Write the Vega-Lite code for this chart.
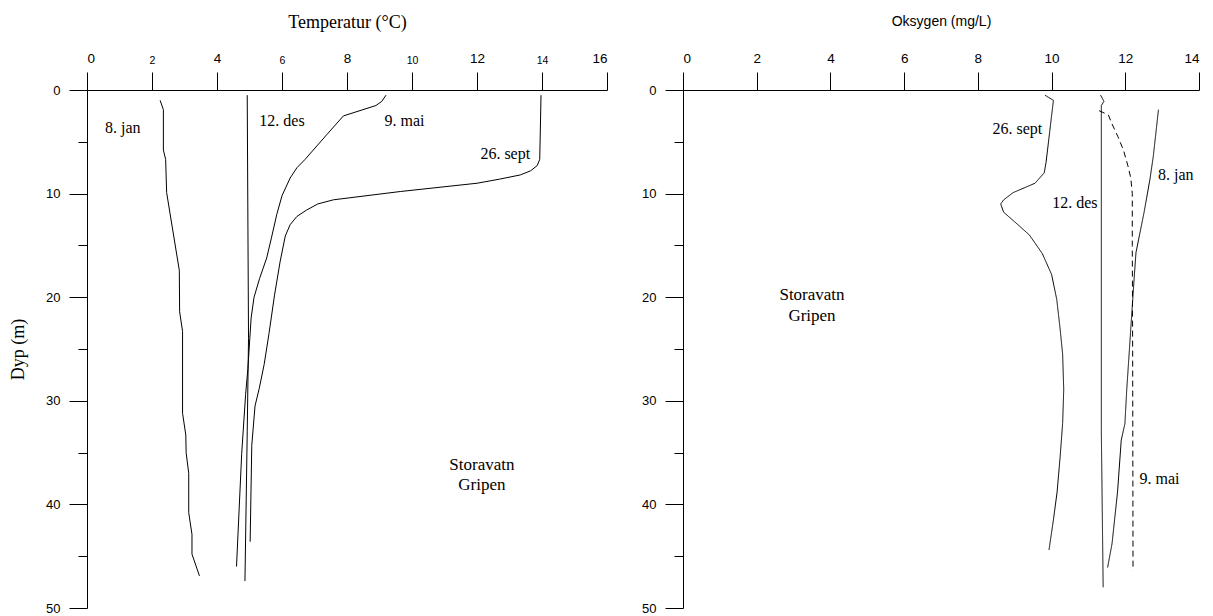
{
  "$schema": "https://vega.github.io/schema/vega-lite/v6.json",
  "background": "white",
  "padding": {"left": 9, "top": 13, "right": 5, "bottom": 5},
  "bounds": "flush",
  "spacing": 76,
  "config": {
    "view": {"stroke": null},
    "axis": {"domainColor": "black", "tickColor": "black", "labelColor": "black", "titleColor": "black", "grid": false, "labelFont": "Liberation Sans", "titleFontWeight": "normal", "domainWidth": 1, "tickWidth": 1}
  },
  "resolve": {"scale": {"x": "independent", "y": "independent", "strokeDash": "independent"}},
  "datasets": {
    "temp": [
      {"date": "8. jan", "v": 2.25, "d": 1.0}, {"date": "8. jan", "v": 2.35, "d": 1.9}, {"date": "8. jan", "v": 2.35, "d": 5.8}, {"date": "8. jan", "v": 2.42, "d": 6.7}, {"date": "8. jan", "v": 2.45, "d": 9.9}, {"date": "8. jan", "v": 2.84, "d": 17.4}, {"date": "8. jan", "v": 2.85, "d": 21.4}, {"date": "8. jan", "v": 2.94, "d": 23.3}, {"date": "8. jan", "v": 2.94, "d": 31.2}, {"date": "8. jan", "v": 3.04, "d": 33.3}, {"date": "8. jan", "v": 3.05, "d": 35.0}, {"date": "8. jan", "v": 3.13, "d": 37.0}, {"date": "8. jan", "v": 3.13, "d": 40.8}, {"date": "8. jan", "v": 3.23, "d": 42.9}, {"date": "8. jan", "v": 3.23, "d": 44.8}, {"date": "8. jan", "v": 3.46, "d": 46.9},
      {"date": "12. des", "v": 4.93, "d": 0.5}, {"date": "12. des", "v": 4.97, "d": 24}, {"date": "12. des", "v": 4.93, "d": 33}, {"date": "12. des", "v": 4.86, "d": 47.4},
      {"date": "9. mai", "v": 9.2, "d": 0.5}, {"date": "9. mai", "v": 9.07, "d": 1.1}, {"date": "9. mai", "v": 8.89, "d": 1.5}, {"date": "9. mai", "v": 7.89, "d": 2.5}, {"date": "9. mai", "v": 7.38, "d": 4.3}, {"date": "9. mai", "v": 6.71, "d": 6.7}, {"date": "9. mai", "v": 6.46, "d": 7.5}, {"date": "9. mai", "v": 6.25, "d": 8.5}, {"date": "9. mai", "v": 6.0, "d": 10.2}, {"date": "9. mai", "v": 5.84, "d": 12}, {"date": "9. mai", "v": 5.68, "d": 14.2}, {"date": "9. mai", "v": 5.53, "d": 16.2}, {"date": "9. mai", "v": 5.31, "d": 18.2}, {"date": "9. mai", "v": 5.14, "d": 20}, {"date": "9. mai", "v": 5.05, "d": 22}, {"date": "9. mai", "v": 4.95, "d": 26.9}, {"date": "9. mai", "v": 4.88, "d": 29.4}, {"date": "9. mai", "v": 4.76, "d": 35.1}, {"date": "9. mai", "v": 4.6, "d": 46.0},
      {"date": "26. sept", "v": 13.97, "d": 0.5}, {"date": "26. sept", "v": 13.93, "d": 6.7}, {"date": "26. sept", "v": 13.85, "d": 7.3}, {"date": "26. sept", "v": 13.65, "d": 7.8}, {"date": "26. sept", "v": 13.33, "d": 8.2}, {"date": "26. sept", "v": 12.7, "d": 8.6}, {"date": "26. sept", "v": 12.0, "d": 9.0}, {"date": "26. sept", "v": 9.64, "d": 9.8}, {"date": "26. sept", "v": 7.58, "d": 10.6}, {"date": "26. sept", "v": 7.1, "d": 11.0}, {"date": "26. sept", "v": 6.75, "d": 11.6}, {"date": "26. sept", "v": 6.46, "d": 12.2}, {"date": "26. sept", "v": 6.25, "d": 13.0}, {"date": "26. sept", "v": 6.1, "d": 14.1}, {"date": "26. sept", "v": 5.94, "d": 16.6}, {"date": "26. sept", "v": 5.77, "d": 19.8}, {"date": "26. sept", "v": 5.6, "d": 23.5}, {"date": "26. sept", "v": 5.45, "d": 26.5}, {"date": "26. sept", "v": 5.3, "d": 28.8}, {"date": "26. sept", "v": 5.17, "d": 30.5}, {"date": "26. sept", "v": 5.07, "d": 34.3}, {"date": "26. sept", "v": 5.02, "d": 43.6}
    ],
    "oxy": [
      {"date": "26. sept", "v": 9.82, "d": 0.5}, {"date": "26. sept", "v": 10.05, "d": 1.0}, {"date": "26. sept", "v": 9.95, "d": 4}, {"date": "26. sept", "v": 9.85, "d": 7.0}, {"date": "26. sept", "v": 9.8, "d": 8.0}, {"date": "26. sept", "v": 9.55, "d": 9.0}, {"date": "26. sept", "v": 8.96, "d": 9.9}, {"date": "26. sept", "v": 8.7, "d": 10.6}, {"date": "26. sept", "v": 8.62, "d": 11.0}, {"date": "26. sept", "v": 8.7, "d": 11.8}, {"date": "26. sept", "v": 8.96, "d": 12.6}, {"date": "26. sept", "v": 9.4, "d": 14.0}, {"date": "26. sept", "v": 9.75, "d": 15.8}, {"date": "26. sept", "v": 10.0, "d": 17.8}, {"date": "26. sept", "v": 10.14, "d": 20.2}, {"date": "26. sept", "v": 10.23, "d": 23}, {"date": "26. sept", "v": 10.3, "d": 25.5}, {"date": "26. sept", "v": 10.33, "d": 28.9}, {"date": "26. sept", "v": 10.3, "d": 32.2}, {"date": "26. sept", "v": 10.23, "d": 35.5}, {"date": "26. sept", "v": 10.15, "d": 38.8}, {"date": "26. sept", "v": 10.05, "d": 41.5}, {"date": "26. sept", "v": 9.93, "d": 44.4},
      {"date": "12. des", "v": 11.33, "d": 0.5}, {"date": "12. des", "v": 11.42, "d": 1.1}, {"date": "12. des", "v": 11.35, "d": 1.5}, {"date": "12. des", "v": 11.35, "d": 33}, {"date": "12. des", "v": 11.4, "d": 48.0},
      {"date": "9. mai", "v": 11.29, "d": 2.0}, {"date": "9. mai", "v": 11.54, "d": 2.4}, {"date": "9. mai", "v": 11.63, "d": 3.2}, {"date": "9. mai", "v": 11.8, "d": 4.5}, {"date": "9. mai", "v": 11.95, "d": 5.8}, {"date": "9. mai", "v": 12.07, "d": 7.3}, {"date": "9. mai", "v": 12.15, "d": 8.5}, {"date": "9. mai", "v": 12.19, "d": 10}, {"date": "9. mai", "v": 12.19, "d": 15}, {"date": "9. mai", "v": 12.2, "d": 25}, {"date": "9. mai", "v": 12.21, "d": 46.4},
      {"date": "8. jan", "v": 12.9, "d": 1.9}, {"date": "8. jan", "v": 12.76, "d": 6.4}, {"date": "8. jan", "v": 12.67, "d": 8.6}, {"date": "8. jan", "v": 12.51, "d": 11.8}, {"date": "8. jan", "v": 12.29, "d": 15.7}, {"date": "8. jan", "v": 12.24, "d": 18.2}, {"date": "8. jan", "v": 12.15, "d": 23}, {"date": "8. jan", "v": 12.04, "d": 28.9}, {"date": "8. jan", "v": 11.99, "d": 32.2}, {"date": "8. jan", "v": 11.89, "d": 33.8}, {"date": "8. jan", "v": 11.79, "d": 38.8}, {"date": "8. jan", "v": 11.64, "d": 43.8}, {"date": "8. jan", "v": 11.52, "d": 46.1}
    ],
    "tempLabels": [
      {"label": "8. jan", "v": 1.1, "d": 3.7, "size": "s"},
      {"label": "12. des", "v": 6.0, "d": 3.0, "size": "s"},
      {"label": "9. mai", "v": 9.77, "d": 3.0, "size": "s"},
      {"label": "26. sept", "v": 12.87, "d": 6.2, "size": "s"},
      {"label": "Storavatn", "v": 12.15, "d": 36.2, "size": "l"},
      {"label": "Gripen", "v": 12.15, "d": 38.1, "size": "l"}
    ],
    "oxyLabels": [
      {"label": "26. sept", "v": 9.07, "d": 3.8, "size": "s"},
      {"label": "8. jan", "v": 13.37, "d": 8.25, "size": "s"},
      {"label": "12. des", "v": 10.63, "d": 10.9, "size": "s"},
      {"label": "9. mai", "v": 12.93, "d": 37.5, "size": "s"},
      {"label": "Storavatn", "v": 3.5, "d": 19.8, "size": "l"},
      {"label": "Gripen", "v": 3.5, "d": 21.8, "size": "l"}
    ]
  },
  "hconcat": [
    {
      "width": 520,
      "height": 518,
      "encoding": {
        "x": {"field": "v", "type": "quantitative", "scale": {"domain": [0, 16], "nice": false, "zero": false},
          "axis": {"orient": "top", "title": "Temperatur (°C)", "titleFont": "Liberation Serif", "titleFontSize": 18, "titlePadding": 20,
            "values": [0, 2, 4, 6, 8, 10, 12, 14, 16], "tickSize": 18, "labelPadding": 7,
            "labelFontSize": {"condition": {"test": "datum.value % 4 === 0", "value": 13.5}, "value": 10.5}}},
        "y": {"field": "d", "type": "quantitative", "scale": {"domain": [0, 50], "nice": false, "reverse": true},
          "axis": {"title": "Dyp (m)", "titleFont": "Liberation Serif", "titleFontSize": 18, "titlePadding": 18,
            "values": [0, 5, 10, 15, 20, 25, 30, 35, 40, 45, 50],
            "labelExpr": "datum.value % 10 === 0 ? datum.label : ''",
            "tickSize": {"condition": {"test": "datum.value % 10 === 0", "value": 18}, "value": 9},
            "labelPadding": 9, "labelFontSize": 13}}
      },
      "layer": [
        {
          "data": {"name": "temp"},
          "mark": {"type": "line", "color": "black", "strokeWidth": 1},
          "encoding": {"detail": {"field": "date"}, "order": {"field": "d", "type": "quantitative"}}
        },
        {
          "data": {"name": "tempLabels"},
          "mark": {"type": "text", "font": "Liberation Serif", "color": "black", "align": "center", "baseline": "middle"},
          "encoding": {"text": {"field": "label"},
            "size": {"field": "size", "type": "nominal", "scale": {"domain": ["s", "l"], "range": [16, 17]}, "legend": null}}
        }
      ]
    },
    {
      "width": 516,
      "height": 518,
      "encoding": {
        "x": {"field": "v", "type": "quantitative", "scale": {"domain": [0, 14], "nice": false, "zero": false},
          "axis": {"orient": "top", "title": "Oksygen (mg/L)", "titleFont": "Liberation Sans", "titleFontSize": 14, "titlePadding": 23,
            "values": [0, 2, 4, 6, 8, 10, 12, 14], "tickSize": 18, "labelPadding": 7, "labelFontSize": 13.5}},
        "y": {"field": "d", "type": "quantitative", "scale": {"domain": [0, 50], "nice": false, "reverse": true},
          "axis": {"title": null,
            "values": [0, 5, 10, 15, 20, 25, 30, 35, 40, 45, 50],
            "labelExpr": "datum.value % 10 === 0 ? datum.label : ''",
            "tickSize": {"condition": {"test": "datum.value % 10 === 0", "value": 18}, "value": 9},
            "labelPadding": 9, "labelFontSize": 13}}
      },
      "layer": [
        {
          "data": {"name": "oxy"},
          "mark": {"type": "line", "color": "black", "strokeWidth": 1},
          "encoding": {"detail": {"field": "date"}, "order": {"field": "d", "type": "quantitative"},
            "strokeDash": {"field": "date", "type": "nominal", "scale": {"domain": ["8. jan", "12. des", "9. mai", "26. sept"], "range": [[1, 0], [1, 0], [6, 4], [1, 0]]}, "legend": null}}
        },
        {
          "data": {"name": "oxyLabels"},
          "mark": {"type": "text", "font": "Liberation Serif", "color": "black", "align": "center", "baseline": "middle"},
          "encoding": {"text": {"field": "label"},
            "size": {"field": "size", "type": "nominal", "scale": {"domain": ["s", "l"], "range": [16, 17]}, "legend": null}}
        }
      ]
    }
  ]
}
